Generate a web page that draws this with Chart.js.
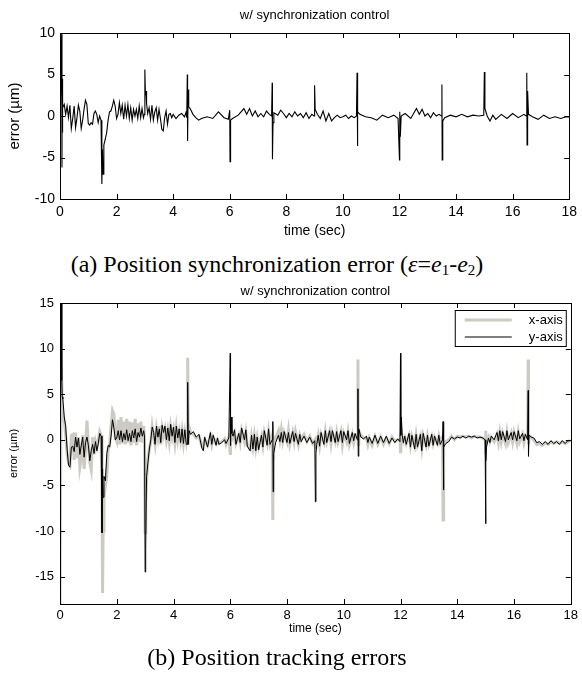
<!DOCTYPE html>
<html>
<head>
<meta charset="utf-8">
<script src="https://cdn.jsdelivr.net/npm/chart.js@4.4.1/dist/chart.umd.min.js"></script>
<style>
  body { margin: 0; background: #fff; }
  #wrap { position: relative; width: 582px; height: 673px; }
  .box { position: absolute; left: 0; width: 582px; }
  .cap { position: absolute; left: 0; width: 554px; text-align: center;
         font-family: "Liberation Serif", "Times New Roman", serif; font-size: 24px; line-height: 28px; }
  .cap sub { font-size: 15px; vertical-align: -3px; line-height: 0; }
</style>
</head>
<body>
<div id="wrap">
  <div class="box" style="top:0;height:241px"><canvas id="chartA"></canvas></div>
  <div class="cap" style="top:250px">(a) Position synchronization error (<i>ε</i>=<i>e</i><sub>1</sub>-<i>e</i><sub>2</sub>)</div>
  <div class="box" style="top:276px;height:368px"><canvas id="chartB"></canvas></div>
  <div class="cap" style="top:643px">(b) Position tracking errors</div>
</div>
<script>
// (a) synchronization error, time in sec
var tA = [0, 0.06, 0.07, 0.075, 0.08, 0.09, 0.095,
  0.1, 0.15, 0.2, 0.25, 0.3, 0.35, 0.4, 0.45, 0.5, 0.55, 0.6, 0.65, 0.7, 0.75, 0.8, 0.85, 0.9, 0.95,
  1.0, 1.05, 1.1, 1.15, 1.2, 1.25, 1.3, 1.35, 1.4, 1.45, 1.48, 1.5, 1.52, 1.55, 1.6, 1.65, 1.7, 1.75, 1.8, 1.85, 1.9, 1.95,
  2.0, 2.05, 2.1, 2.15, 2.2, 2.25, 2.3, 2.35, 2.4, 2.45, 2.5, 2.55, 2.6, 2.65, 2.7, 2.75, 2.8, 2.85, 2.9, 2.95, 2.98,
  3.0, 3.02, 3.04, 3.06, 3.1, 3.15, 3.2, 3.25, 3.3, 3.35, 3.4, 3.45, 3.5, 3.55, 3.6, 3.65, 3.7, 3.75, 3.8, 3.85, 3.9, 3.95,
  4.0, 4.1, 4.2, 4.3, 4.4, 4.45, 4.48, 4.5, 4.51, 4.53, 4.55, 4.6, 4.7, 4.8, 4.9,
  5.0, 5.2, 5.4, 5.6, 5.8, 5.95, 6.0, 6.01, 6.03, 6.1, 6.3, 6.5, 6.6, 6.7, 6.8, 6.9,
  7.0, 7.1, 7.2, 7.3, 7.4, 7.48, 7.5, 7.51, 7.53, 7.56, 7.7, 7.8, 7.9,
  8.0, 8.1, 8.2, 8.3, 8.4, 8.5, 8.6, 8.7, 8.8, 8.9, 8.98,
  9.0, 9.02, 9.1, 9.2, 9.3, 9.4, 9.5, 9.6, 9.7, 9.8, 9.9,
  10.0, 10.1, 10.2, 10.3, 10.4, 10.48, 10.5, 10.51, 10.53, 10.6, 10.8,
  11.0, 11.2, 11.4, 11.6, 11.8, 11.95,
  12.0, 12.01, 12.03, 12.06, 12.2, 12.4, 12.6, 12.7, 12.8, 12.9,
  13.0, 13.1, 13.2, 13.3, 13.4, 13.48, 13.5, 13.51, 13.53, 13.6, 13.8,
  14.0, 14.2, 14.4, 14.6, 14.8, 14.98,
  15.0, 15.02, 15.1, 15.2, 15.3, 15.4, 15.6, 15.8,
  16.0, 16.2, 16.4, 16.48, 16.5, 16.51, 16.53, 16.56, 16.7, 16.9,
  17.1, 17.3, 17.5, 17.7, 17.9, 18.0];
var errA = [-2, 10, -6.2, 4.5, -2, 0.5, -0.5,
  1.0, 1.4, 0.2, 1.2, -0.2, 1.3, -1.5, -0.3, 1.2, -1.4, -0.2, 1.3, 0.6, -1.5, -0.5, 0.8, 1.9, 1.4,
  -0.9, -1.1, -0.8, -1.0, 0.3, 0.6, 0.2, -0.8, 0.0, -0.5, -8.2, -4, -7, -3.5, -2.8, -2, -0.5, 0.5, 0.6, 1.2, 1.9, 1.2,
  -0.3, 0.2, 1.6, 0.3, 1.3, -0.4, 1.3, 0.0, 1.4, -0.3, 1.0, -0.5, 0.8, 0.0, 0.8, -0.3, 1.2, -0.2, 0.9, -0.2, 0.2,
  5.6, 2.5, 3.0, 1.5, 0.3, 1.0, -0.4, 1.3, -0.5, 0.5, 1.0, -0.5, 0.8, -0.3, -1.6, -1.8, -0.2, 0.6, -1.0, 0.2, 0.3, -0.2,
  0.2, -0.3, 0.1, 0.3, -0.1, 0.4, -0.2, 5.0, -3.0, 3.2, 1.1, 0.9, 0.2, -0.2, -0.5,
  -0.3, -0.1, -0.3, 0.5, -0.2, -0.4, 0.7, -5.5, -0.5, -0.3, 0.1, 0.9, 0.2, 0.9, 0.0, 0.6,
  -0.1, 0.3, -0.1, 0.6, 0.2, 0.0, 4.0, -5.2, -0.8, 0.4, 0.1, 0.7, 0.3,
  -0.2, 0.3, -0.1, 0.5, 0.0, 0.3, -0.2, 0.4, -0.3, 0.2, 0.0,
  3.7, 0.8, 0.2, -0.3, 0.6, -0.6, 0.3, -0.6, -0.2, 0.1, -0.2,
  -0.1, 0.1, -0.3, 0.0, -0.2, 0.0, 5.2, -3.6, 0.5, 0.2, -0.1,
  -0.2, -0.5, 0.1, -0.2, 0.1, -0.3,
  -5.3, 0.5, -2.5, 0.0, 0.3, -0.3, 0.9, 0.2, 0.8, 0.0,
  0.3, -0.2, 0.4, 0.0, 0.2, 0.0, 3.8, -5.3, -0.6, -0.2, 0.1,
  -0.1, 0.2, -0.1, 0.1, 0.0, 0.1,
  5.3, 0.9, 0.0, -0.6, 0.1, -0.4, 0.2, -0.3,
  0.3, -0.2, 0.2, 0.0, 5.2, -3.5, 3.0, 0.2, -0.1, -0.4,
  0.1, -0.3, -0.1, -0.3, -0.1, -0.1];

// (b) tracking errors, time in sec
var tB = [0, 0.04, 0.06, 0.07, 0.08, 0.1, 0.15, 0.2, 0.25, 0.3, 0.35, 0.4,
  0.45, 0.5, 0.55, 0.6, 0.65, 0.7, 0.75, 0.8, 0.85, 0.9, 0.95,
  1.0, 1.05, 1.1, 1.15, 1.2, 1.25, 1.3, 1.35, 1.4, 1.45, 1.48, 1.5, 1.52, 1.55, 1.6, 1.65, 1.7, 1.75, 1.8, 1.85, 1.9, 1.95,
  2.0, 2.05, 2.1, 2.15, 2.2, 2.25, 2.3, 2.35, 2.4, 2.45, 2.5, 2.55, 2.6, 2.65, 2.7, 2.75, 2.8, 2.85, 2.9, 2.95, 2.98,
  3.0, 3.02, 3.05, 3.1, 3.15, 3.2, 3.25, 3.3, 3.35, 3.4, 3.45, 3.5, 3.55, 3.6, 3.65, 3.7, 3.75, 3.8, 3.85, 3.9, 3.95,
  4.0, 4.05, 4.1, 4.15, 4.2, 4.25, 4.3, 4.35, 4.4, 4.45, 4.48, 4.5, 4.52, 4.55, 4.6, 4.7, 4.8, 4.9,
  5.0, 5.05, 5.1, 5.2, 5.3, 5.35, 5.4, 5.5, 5.55, 5.6, 5.7, 5.8, 5.85, 5.95,
  6.0, 6.01, 6.03, 6.06, 6.1, 6.15, 6.2, 6.3, 6.35, 6.4, 6.5, 6.55, 6.6, 6.7, 6.75, 6.8, 6.85, 6.9, 6.95,
  7.0, 7.1, 7.15, 7.2, 7.3, 7.35, 7.4, 7.48, 7.5, 7.51, 7.53, 7.6, 7.7, 7.75, 7.8, 7.85, 7.9,
  8.0, 8.05, 8.1, 8.2, 8.25, 8.3, 8.4, 8.45, 8.5, 8.6, 8.7, 8.8, 8.9, 8.98,
  9.0, 9.02, 9.05, 9.1, 9.15, 9.2, 9.3, 9.35, 9.4, 9.5, 9.55, 9.6, 9.7, 9.75, 9.8, 9.9, 9.95,
  10.0, 10.1, 10.15, 10.2, 10.3, 10.35, 10.4, 10.48, 10.5, 10.51, 10.53, 10.6, 10.7, 10.8, 10.85, 10.9,
  11.0, 11.1, 11.2, 11.3, 11.4, 11.5, 11.6, 11.7, 11.8, 11.9, 11.98,
  12.0, 12.01, 12.03, 12.06, 12.1, 12.15, 12.2, 12.3, 12.35, 12.4, 12.5, 12.55, 12.6, 12.7, 12.75, 12.8, 12.9, 12.95,
  13.0, 13.1, 13.15, 13.2, 13.3, 13.35, 13.4, 13.48, 13.5, 13.51, 13.53, 13.6, 13.7, 13.8, 13.9,
  14.0, 14.1, 14.2, 14.3, 14.4, 14.5, 14.6, 14.7, 14.8, 14.9, 14.98,
  15.0, 15.01, 15.03, 15.1, 15.15, 15.2, 15.3, 15.4, 15.45, 15.5, 15.55, 15.6, 15.7, 15.75, 15.8, 15.9, 15.95,
  16.0, 16.1, 16.15, 16.2, 16.3, 16.35, 16.4, 16.48, 16.5, 16.51, 16.53, 16.6, 16.7, 16.8, 16.9,
  17.0, 17.1, 17.2, 17.3, 17.4, 17.5, 17.6, 17.7, 17.8, 17.9, 18.0];
var xAxisErr = [-18, 6.5, 5, 4, 3, 2.5, 2, 0.5, -1.5, -2.5, -2.8, 0.5,
  0.6, -2.2, 0.8, -2.0, 0.3, -3.0, -2.0, 0.5, -3.2, -1.0, 2.1,
  -0.5, -2.5, -3.3, 0.3, -1.6, -0.2, -0.8, 0.0, 0.9, 0.5, -6, -16.8, -10.0, -6.3, -5.0, -4.0, -1.0, -0.5, 1.5, 3.2, 2.8, 0.2,
  -0.2, 2.2, -0.5, 2.5, -0.4, 2.0, -0.5, 2.3, -0.3, 2.0, -0.6, 1.9, -0.3, 2.3, -0.6, 1.8, -0.2, 2.0, -0.3, 1.5, 0.0,
  -10.2, -7, -4.5, -2.0, -1.0, -0.2, 1.5, 0.5, -0.5, 1.2, 0.2, 1.5, -0.5, 1.3, 0.5, 1.2, 0.0, 1.0, -0.2, 1.4, 0.3,
  1.1, -0.3, 1.3, 0.0, 0.9, -0.1, 1.0, -0.4, 0.8, -0.2, 0.5, 9.0, -0.5, 1.4, 0.8, 0.6, 0.2, 0.4,
  -0.7, -0.8, 0.0, -0.6, 0.4, -0.5, 0.3, -0.4, 0.0, -0.4, -0.2, 0.1, -0.5, 0.3,
  -1.5, 2.5, 0.5, 0.3, 0.2, 0.7, -0.4, 0.5, -0.3, 1.0, -0.2, 0.8, -0.6, -1.0, 0.3, -0.8, 0.4, -0.9, 0.2,
  -0.8, 0.4, -0.6, 0.8, -0.4, 0.9, -0.4, 0.5, -8.8, -2, -0.5, 0.2, 1.0, 0.0, 1.1, -0.1, 0.8,
  -0.2, 1.0, -0.5, 0.8, -0.2, 0.9, -0.5, 0.5, 0.0, 0.6, -0.2, 0.4, -0.4, 0.0,
  -0.8, -0.3, -0.2, 0.5, -0.6, 0.6, -0.3, 0.9, -0.2, 0.9, -0.4, 0.8, -0.2, 0.8, -0.2, 0.9, -0.5,
  0.7, -0.2, 0.8, -0.5, 0.6, -0.3, 0.5, 0.4, 8.8, -0.5, 1.0, 0.5, 0.2, 0.2, -0.5, 0.2,
  -0.6, 0.4, -0.5, 0.3, -0.5, 0.2, -0.4, 0.3, -0.2, 0.0, 0.0,
  -1.3, 0.5, 0.8, 0.3, -0.2, 0.2, -0.4, 0.5, -0.6, 0.4, -0.7, 0.5, -0.6, 0.4, -0.9, 0.5, -0.6, 0.4,
  -0.5, 0.4, -0.4, 0.3, -0.4, 0.4, -0.3, 0.3, -8.8, -1.5, -0.3, -0.2, 0.0, 0.4, 0.0,
  0.4, 0.3, 0.4, 0.3, 0.4, 0.2, 0.4, 0.3, 0.3, 0.2, 0.0,
  1.0, -0.5, -0.2, 0.3, -0.2, 0.3, -0.2, 0.6, -0.3, 0.8, -0.2, 0.7, -0.4, 0.8, -0.3, 0.7, -0.2,
  0.8, -0.4, 0.8, -0.2, 0.6, -0.3, 0.5, 0.3, 8.8, -0.5, 0.5, 0.3, 0.0, -0.5, -0.4,
  -0.6, -0.3, -0.5, -0.2, -0.4, -0.2, -0.4, -0.2, -0.4, -0.2, -0.1];
var yAxisErr = [-5.7, 15, 11.5, 6.5, 4.7, 4.5, 2.5, 1.5, -1.0, -2.8, -3.0, -0.8,
  -0.7, -1.3, 0.3, -0.8, 0.2, -1.6, -0.6, 0.3, -1.9, -0.3, 0.3,
  -0.6, -2.3, -1.2, -0.5, -1.5, -0.2, -1.2, -0.4, 0.7, 0.4, -10.2, -3.2, -6.3, -4.0, -4.5, -1.5, -0.6, -0.8, 0.4, 2.2, 1.3, 0.0,
  0.2, 1.0, 0.0, 1.0, -0.2, 0.7, 0.0, 1.1, -0.1, 0.7, -0.2, 1.0, 0.2, 1.2, -0.2, 0.8, 0.3, 1.3, 0.4, 1.0, 0.3,
  -14.5, -12.0, -4.0, -2.5, -1.0, 0.0, 1.4, 0.8, -0.5, 1.5, 0.3, 1.2, -0.3, 1.6, 0.8, 1.5, 0.0, 1.3, -0.1, 1.7, 0.4,
  1.4, -0.3, 1.5, 0.2, 1.2, -0.3, 1.2, -0.4, 1.1, -0.5, -0.5, 6.3, -0.5, 1.0, 0.6, 0.9, 0.3, 0.6,
  -0.9, -1.2, 0.3, -0.8, 0.8, -0.5, 0.5, -0.6, 0.2, -0.5, -0.3, 0.0, -0.4, 0.2,
  9.5, -0.6, 2.5, 0.7, 0.4, 1.1, -0.5, 0.7, -0.3, 1.3, 0.0, 1.1, -0.7, -1.2, 0.5, -1.0, 0.6, -1.2, 0.3,
  -1.1, 0.5, -0.8, 1.0, -0.6, 1.2, -0.5, 0.0, 2.0, -5.7, -1.5, -0.3, 0.5, -0.2, 0.8, -0.3, 0.9,
  -0.3, 0.8, -0.4, 0.9, -0.2, 0.7, -0.5, 0.6, -0.2, 0.4, -0.3, 0.3, -0.4, -0.1,
  -6.8, -1.5, -0.5, 0.5, -0.7, 0.8, -0.5, 1.0, -0.3, 1.0, -0.2, 1.0, -0.3, 0.9, -0.2, 1.0, -0.3,
  0.9, 0.0, 1.0, -0.4, 0.8, -0.1, 0.7, 0.0, 5.6, -1.8, 1.2, 0.3, 0.1, 0.4, -0.3, 0.3,
  -0.4, 0.5, -0.4, 0.4, -0.3, 0.4, -0.4, 0.2, -0.3, 0.1, -0.2,
  9.5, 0.5, 2.5, 0.5, -0.3, 0.4, -0.5, 0.7, -0.8, 0.5, -1.0, 0.6, -0.8, 0.6, -1.2, 0.7, -0.8, 0.5,
  -0.7, 0.6, -0.6, 0.4, -0.6, 0.5, -0.5, 0.0, 2.0, -5.5, -0.8, -0.4, -0.2, 0.3, 0.1,
  0.3, 0.2, 0.4, 0.2, 0.4, 0.3, 0.4, 0.2, 0.3, 0.2, 0.0,
  -9.2, -2.3, -0.8, 0.2, -0.3, 0.4, 0.0, 0.8, -0.1, 1.0, 0.0, 0.9, -0.2, 1.0, 0.0, 0.8, 0.0,
  0.9, -0.1, 1.0, 0.1, 0.7, -0.1, 0.6, 0.0, 5.4, -1.8, 0.5, 0.3, 0.2, -0.3, -0.2,
  -0.5, -0.2, -0.5, -0.1, -0.4, -0.2, -0.5, -0.1, -0.4, -0.1, -0.1];

var seriesNames = ["x-axis", "y-axis"];
var seriesColors = ["#cdcac3", "#000000"];
var timeTicks = [0, 2, 4, 6, 8, 10, 12, 14, 16, 18];
var FONT = "'Liberation Sans', Arial, sans-serif";

function pts(t, v) {
  return t.map(function (x, i) { return { x: x, y: v[i] }; });
}

// matlab style box with inward ticks, title centred over the axes
var framePlugin = {
  id: "frame",
  afterDatasetsDraw: function (chart, args, opts) {
    var ctx = chart.ctx, a = chart.chartArea;
    var sx = chart.scales.x, sy = chart.scales.y;
    ctx.save();
    ctx.strokeStyle = "#000";
    ctx.lineWidth = 1;
    ctx.beginPath();
    sx.ticks.forEach(function (tk) {
      var px = Math.round(sx.getPixelForValue(tk.value)) + 0.5;
      ctx.moveTo(px, a.bottom); ctx.lineTo(px, a.bottom - 5);
      ctx.moveTo(px, a.top); ctx.lineTo(px, a.top + 5);
    });
    sy.ticks.forEach(function (tk) {
      var py = Math.round(sy.getPixelForValue(tk.value)) + 0.5;
      ctx.moveTo(a.left, py); ctx.lineTo(a.left + 5, py);
      ctx.moveTo(a.right, py); ctx.lineTo(a.right - 5, py);
    });
    ctx.stroke();
    ctx.strokeRect(Math.round(a.left) + 0.5, Math.round(a.top) + 0.5,
      Math.round(a.right - a.left), Math.round(a.bottom - a.top));
    ctx.fillStyle = "#000";
    ctx.font = opts.size + "px " + FONT;
    ctx.textAlign = "center";
    ctx.textBaseline = "middle";
    ctx.fillText("w/ synchronization control", (a.left + a.right) / 2, opts.y);
    ctx.restore();
  }
};

var legendPlugin = {
  id: "boxLegend",
  afterDatasetsDraw: function (chart) {
    var ctx = chart.ctx, a = chart.chartArea;
    var w = 111, h = 36;
    var x0 = a.right - 5 - w, y0 = a.top + 7;
    ctx.save();
    ctx.fillStyle = "#fff";
    ctx.fillRect(x0, y0, w, h);
    ctx.strokeStyle = "#000";
    ctx.lineWidth = 1;
    ctx.strokeRect(x0 + 0.5, y0 + 0.5, w, h);
    ctx.font = "13px " + FONT;
    ctx.textAlign = "right";
    ctx.textBaseline = "middle";
    seriesNames.forEach(function (name, i) {
      var yy = y0 + 10 + i * 17;
      ctx.strokeStyle = seriesColors[i];
      ctx.lineWidth = i === 0 ? 3 : 1.2;
      ctx.beginPath();
      ctx.moveTo(x0 + 10, yy); ctx.lineTo(x0 + 57, yy);
      ctx.stroke();
      ctx.fillStyle = "#000";
      ctx.fillText(name, x0 + w - 3, yy);
    });
    ctx.restore();
  }
};

function makeOptions(o) {
  return {
    responsive: true,
    maintainAspectRatio: false,
    animation: false,
    layout: { padding: { left: 0, right: 9, top: o.top, bottom: 0 } },
    plugins: {
      legend: { display: false },
      tooltip: { enabled: false },
      title: { display: false },
      frame: { y: o.titleY, size: o.titleSize }
    },
    scales: {
      x: {
        type: "linear",
        min: 0, max: 18,
        afterBuildTicks: function (s) { s.ticks = timeTicks.map(function (v) { return { value: v }; }); },
        afterFit: function (s) { s.height = o.xHeight; },
        grid: { display: false, drawTicks: false },
        border: { display: false },
        ticks: { color: "#000", padding: o.xTickPad, maxRotation: 0,
                 font: { family: FONT, size: o.tickSize } },
        title: { display: true, text: "time (sec)", color: "#000",
                 font: { family: FONT, size: o.xTitleSize },
                 padding: { top: 0, bottom: o.xTitleBottom } }
      },
      y: {
        min: o.yMin, max: o.yMax,
        afterBuildTicks: function (s) { s.ticks = o.yTicks.map(function (v) { return { value: v }; }); },
        afterFit: function (s) { s.width = 60; },
        grid: { display: false, drawTicks: false },
        border: { display: false },
        ticks: { color: "#000", padding: o.yTickPad,
                 font: { family: FONT, size: o.tickSize } },
        title: { display: true, text: "error (µm)", color: "#000",
                 font: { family: FONT, size: o.yTitleSize },
                 padding: { top: o.yTitleTop, bottom: 0 } }
      }
    }
  };
}

new Chart("chartA", {
  type: "line",
  data: {
    datasets: [{
      data: pts(tA, errA),
      borderColor: "#000",
      borderWidth: 1.1,
      pointRadius: 0,
      tension: 0
    }]
  },
  options: makeOptions({
    top: 33, titleY: 15, titleSize: 13,
    xHeight: 42, xTickPad: 5, tickSize: 14, xTitleSize: 14, xTitleBottom: 1,
    yMin: -10, yMax: 10, yTicks: [-10, -5, 0, 5, 10], yTickPad: 5, yTitleSize: 15, yTitleTop: 6
  }),
  plugins: [framePlugin]
});

new Chart("chartB", {
  type: "line",
  data: {
    datasets: [{
      label: seriesNames[0],
      data: pts(tB, xAxisErr),
      borderColor: seriesColors[0],
      borderWidth: 3,
      pointRadius: 0,
      tension: 0,
      order: 2
    }, {
      label: seriesNames[1],
      data: pts(tB, yAxisErr),
      borderColor: seriesColors[1],
      borderWidth: 1,
      pointRadius: 0,
      tension: 0,
      order: 1
    }]
  },
  options: makeOptions({
    top: 27, titleY: 15, titleSize: 13,
    xHeight: 40, xTickPad: 4, tickSize: 13, xTitleSize: 12, xTitleBottom: 8,
    yMin: -18, yMax: 15, yTicks: [-15, -10, -5, 0, 5, 10, 15], yTickPad: 6, yTitleSize: 11, yTitleTop: 7
  }),
  plugins: [framePlugin, legendPlugin]
});
</script>
</body>
</html>
